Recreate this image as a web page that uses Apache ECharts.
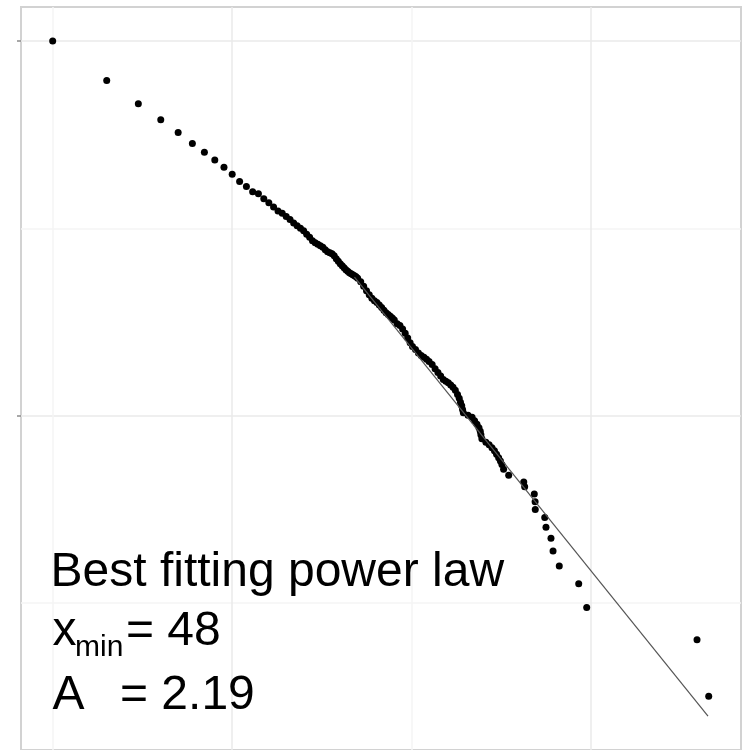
<!DOCTYPE html>
<html>
<head>
<meta charset="utf-8">
<script src="https://cdn.jsdelivr.net/npm/echarts@6/dist/echarts.min.js"></script>
<style>
  html, body { margin: 0; padding: 0; background: #fff; }
  #chart { width: 744px; height: 750px; }
</style>
</head>
<body>
<div id="chart"></div>
<script>
// empirical CCDF, P(X >= x)
var ccdfX = [1, 2, 3, 4, 5, 6, 7, 8, 9, 10, 11, 12, 13, 14, 15, 16, 17,
  18, 19, 20, 21, 22, 23, 24, 25, 26, 27, 28, 29, 30, 31, 32, 33, 34, 35, 36, 37, 38, 39, 40,
  41, 42, 43, 44, 45, 46, 47, 48, 49, 50, 52, 54, 56, 58, 60, 62, 64, 66, 68, 70, 72, 74, 76, 78, 80,
  83, 86, 89, 92, 95, 98, 101, 105, 109, 113, 117, 121, 125, 130, 135, 140, 145, 150, 155, 160,
  165, 170, 175, 180, 184, 187, 190, 192,
  194, 206, 217, 224, 231, 237, 241, 243, 246, 259, 270, 280, 289, 297, 305, 312, 318, 325, 347,
  421, 426, 482, 487, 488, 551, 560, 597, 613, 664, 852, 944, 3886, 4515];
var ccdfY = [1, 0.615, 0.462, 0.380, 0.325, 0.284, 0.2545, 0.2314, 0.2116, 0.1944, 0.1778, 0.1673, 0.1567, 0.1530, 0.1439, 0.1370, 0.1301,
  0.1239, 0.1202, 0.1158, 0.1116, 0.1069, 0.1031, 0.1000, 0.0970, 0.0929, 0.0896, 0.0858, 0.0837, 0.0822, 0.0807, 0.0792, 0.0769, 0.0750, 0.0741, 0.0732, 0.0714, 0.0688, 0.0668, 0.0648,
  0.0632, 0.0617, 0.0602, 0.0591, 0.0580, 0.0573, 0.0566, 0.0559, 0.0552, 0.0542, 0.0519, 0.0491, 0.0465, 0.0443, 0.0424, 0.0411, 0.0402, 0.0390, 0.0378, 0.0366, 0.0355, 0.0347, 0.0340, 0.0332, 0.0324,
  0.0310, 0.0303, 0.0290, 0.0276, 0.0260, 0.0245, 0.0234, 0.0226, 0.0216, 0.0210, 0.0205, 0.0200, 0.0195, 0.0188, 0.0178, 0.0170, 0.0163, 0.0156, 0.0153, 0.0150,
  0.0146, 0.0142, 0.0137, 0.0130, 0.0124, 0.0118, 0.0113, 0.0108,
  0.01038, 0.01006, 0.00982, 0.00940, 0.00901, 0.00863, 0.00827, 0.00792, 0.00754, 0.00723, 0.00701, 0.00676, 0.00651, 0.00624, 0.00598, 0.00573, 0.00549, 0.00519, 0.00481,
  0.00444, 0.00418, 0.00382, 0.00348, 0.00316, 0.00287, 0.00254, 0.00222, 0.00190, 0.00158, 0.00127, 0.000949, 0.000638, 0.000319];

// fitted power law from xmin = 48, alpha = 2.19
var fitX = [48, 4475];
var fitY = [0.0550, 0.000250];

var xMajor = [10, 1000], xMinor = [1, 100];
var yMajor = [1, 0.01], yMinor = [0.1, 0.001];
var xRange = [0.666, 6832], yRange = [0.0001648, 1.5167];

var chart = echarts.init(document.getElementById("chart"), null, { renderer: "canvas" });

function gridAxis(range, ticks, color, showTick) {
  return {
    type: "log", logBase: 10, min: range[0], max: range[1],
    axisLine: { show: false },
    axisLabel: { show: false },
    axisTick: { show: showTick, length: 4, customValues: ticks, lineStyle: { color: "#8c8c8c", width: 1.5 } },
    splitLine: { show: true, lineStyle: { color: color, width: 1.5 } }
  };
}

var scatterData = ccdfX.map(function (x, i) { return [x, ccdfY[i]]; });
var fitData = fitX.map(function (x, i) { return [x, fitY[i]]; });

var font = "'Liberation Sans', Arial, sans-serif";
function label(text, x, y, size) {
  return { type: "text", x: x, y: y, z: 10,
    style: { text: text, fontSize: size, fontFamily: font, fill: "#000", verticalAlign: "middle" } };
}

chart.setOption({
  animation: false,
  grid: { left: 21, top: 7, width: 720, height: 745, show: true, borderColor: "#d2d2d2", borderWidth: 2, backgroundColor: "#fff" },
  xAxis: [gridAxis(xRange, xMajor, "#eaeaea", false), gridAxis(xRange, xMinor, "#f5f5f5", false)],
  yAxis: [gridAxis(yRange, yMajor, "#eaeaea", true), gridAxis(yRange, yMinor, "#f5f5f5", false)],
  series: [
    { type: "scatter", xAxisIndex: 0, yAxisIndex: 0, data: scatterData, symbolSize: 7,
      itemStyle: { color: "#000", opacity: 1 } },
    { type: "line", xAxisIndex: 0, yAxisIndex: 0, data: fitData, showSymbol: false, symbol: "none",
      lineStyle: { color: "#555", width: 1.2 } }
  ],
  graphic: [
    label("Best fitting power law", 50.5, 572.5, 48),
    label("x", 52.5, 632, 48),
    label("min", 75, 648, 30),
    label("= 48", 126, 632, 48),
    label("A", 52.5, 695.4, 48),
    label("= 2.19", 120, 695.4, 48)
  ]
});
window.addEventListener("resize", function () { chart.resize(); });
</script>
</body>
</html>
